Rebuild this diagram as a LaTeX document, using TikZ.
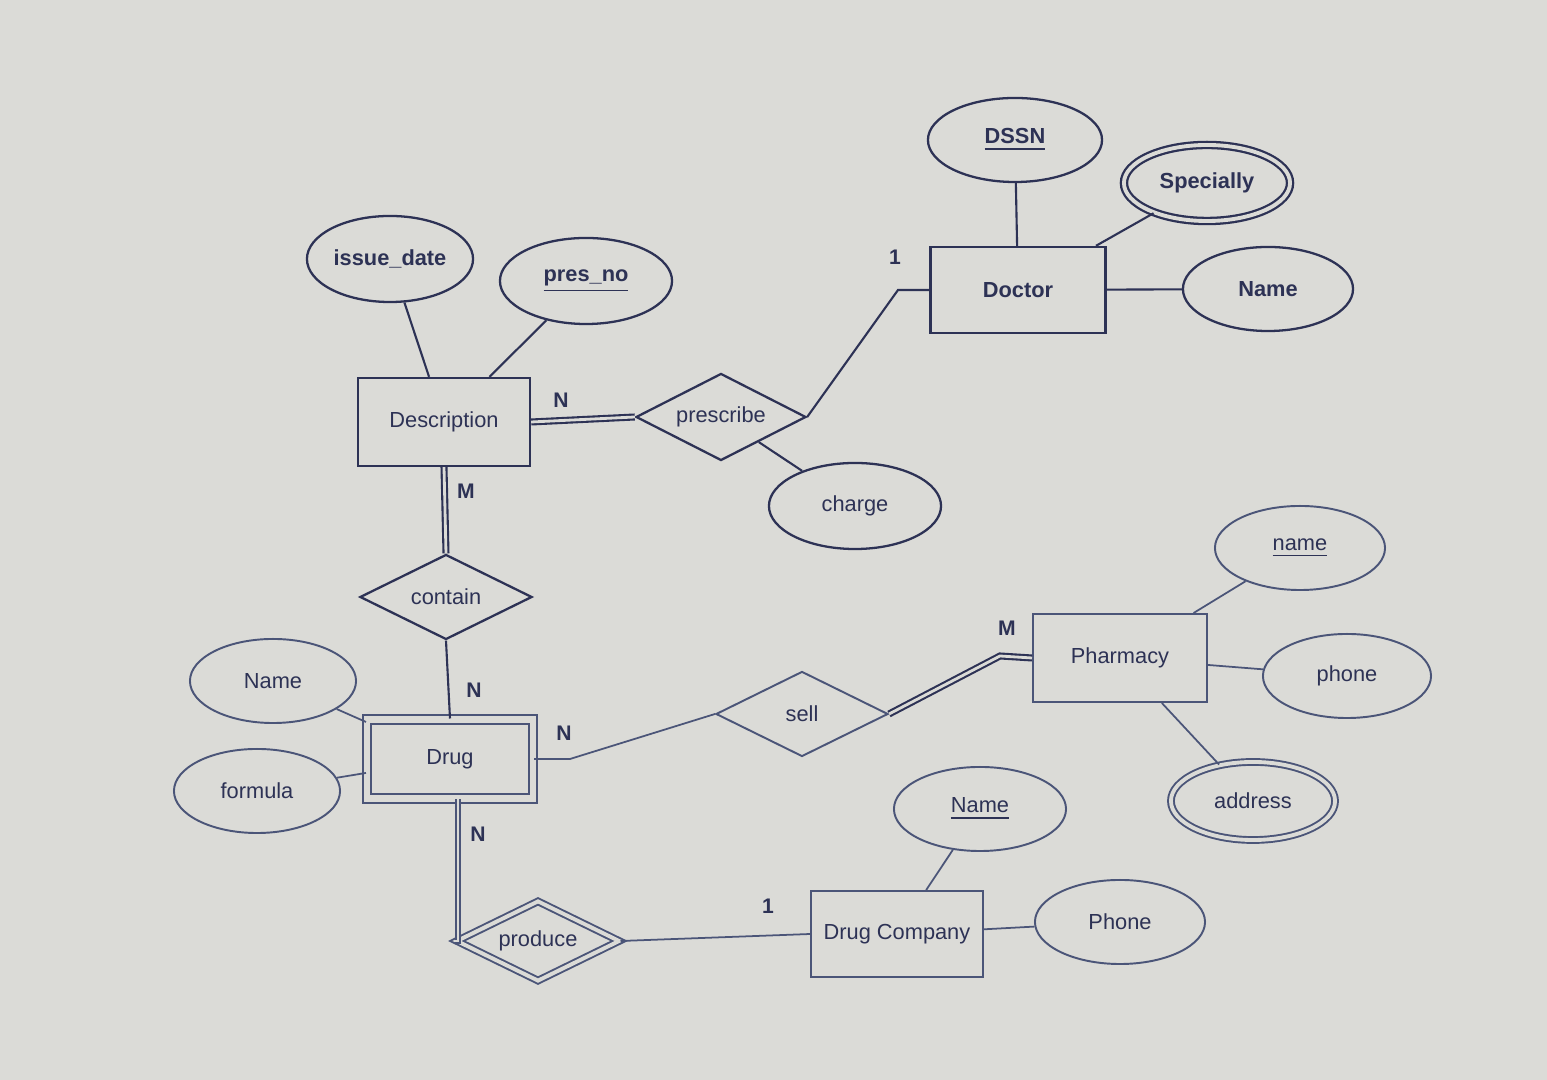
\documentclass[tikz,border=0pt]{standalone}
\usepackage{fontspec}
\setmainfont{Liberation Sans}
\usetikzlibrary{shapes.geometric,calc}
\definecolor{bg}{RGB}{219,219,215}
\definecolor{ink}{RGB}{45,50,85}
\definecolor{inklight}{RGB}{75,85,120}
\tikzset{
  every node/.style={text=ink,font=\fontsize{6.2}{7.5}\selectfont},
  attr/.style={ellipse,draw=ink,line width=0.65pt,inner sep=0pt},
  attrw/.style={ellipse,draw=inklight,line width=0.55pt,inner sep=0pt},
  ent/.style={rectangle,draw=ink,line width=0.65pt,inner sep=0pt},
  entw/.style={rectangle,draw=inklight,line width=0.55pt,inner sep=0pt},
  rel/.style={diamond,draw=ink,line width=0.65pt,inner sep=0pt,aspect=2},
  relw/.style={diamond,draw=inklight,line width=0.55pt,inner sep=0pt,aspect=2},
  dbl/.style={double=bg,double distance=1.1pt},
  dbll/.style={double=bg,double distance=0.8pt},
  conn/.style={draw=ink,line width=0.6pt},
  connw/.style={draw=inklight,line width=0.5pt},
  card/.style={font=\fontsize{6}{7}\selectfont\bfseries},
}
\begin{document}
\begin{tikzpicture}[x=0.01cm,y=-0.01cm]
\fill[bg] (0,0) rectangle (1547,1080);
\useasboundingbox (0,0) rectangle (1547,1080);

% Doctor side
\node[ent,minimum width=1.75cm,minimum height=0.86cm] (doctor) at (1018,290) {\bfseries Doctor};
\node[attr,minimum width=1.74cm,minimum height=0.84cm] (dssn) at (1015,140) {\bfseries\underline{DSSN}};
\node[attr,dbl,minimum width=1.66cm,minimum height=0.76cm] (spec) at (1207,183) {\bfseries Specially};
\node[attr,minimum width=1.70cm,minimum height=0.84cm] (dname) at (1268,289) {\bfseries Name};

% Description
\node[ent,minimum width=1.72cm,minimum height=0.88cm] (desc) at (444,422) {Description};
\node[attr,minimum width=1.66cm,minimum height=0.86cm] (issue) at (390,259) {\bfseries issue\_date};
\node[attr,minimum width=1.72cm,minimum height=0.86cm] (pres) at (586,281) {\bfseries\underline{pres\_no}};
\node[rel,minimum width=1.70cm,minimum height=0.87cm] (prescribe) at (721,417) {prescribe};
\node[attr,minimum width=1.72cm,minimum height=0.86cm] (charge) at (855,506) {charge};
\node[rel,minimum width=1.72cm,minimum height=0.85cm] (contain) at (446,597) {contain};

% Drug
\node[entw,double=bg,double distance=1.8pt,minimum width=1.66cm,minimum height=0.79cm] (drug) at (450,759) {Drug};
\node[attrw,minimum width=1.66cm,minimum height=0.84cm] (drugname) at (273,681) {Name};
\node[attrw,minimum width=1.66cm,minimum height=0.84cm] (formula) at (257,791) {formula};
\node[relw,minimum width=1.72cm,minimum height=0.85cm] (sell) at (802,714) {sell};

% Pharmacy
\node[entw,minimum width=1.74cm,minimum height=0.88cm] (pharm) at (1120,658) {Pharmacy};
\node[attrw,minimum width=1.70cm,minimum height=0.84cm] (pname) at (1300,548) {\underline{name}};
\node[attrw,minimum width=1.68cm,minimum height=0.84cm] (phone) at (1347,676) {phone};
\node[attrw,dbl,minimum width=1.64cm,minimum height=0.78cm] (address) at (1253,801) {address};

% Drug company
\node[entw,minimum width=1.71cm,minimum height=0.86cm] (company) at (897,934) {Drug Company};
\node[attrw,minimum width=1.72cm,minimum height=0.84cm] (cname) at (980,809) {\underline{Name}};
\node[attrw,minimum width=1.70cm,minimum height=0.84cm] (cphone) at (1120,922) {Phone};
\node[relw,dbl,minimum width=1.63cm,minimum height=0.80cm] (produce) at (538,941) {produce};

% bend coordinates
\coordinate (docbend) at (898,290);
\coordinate (drugbend) at (570,759);
\coordinate (pharmbend) at (1000,656);
\coordinate (prodbend) at (458,941);

% connectors
\draw[conn] (dssn) -- (doctor);
\draw[conn] (spec) -- (doctor);
\draw[conn] (doctor) -- (dname);
\draw[conn] (doctor.west) -- (docbend) -- (prescribe.east);
\draw[conn] (issue) -- (desc);
\draw[conn] (pres) -- (desc);
\draw[conn,dbll] (desc.east) -- (prescribe.west);
\draw[conn] (prescribe) -- (charge);
\draw[conn,dbll] (desc.south) -- (contain.north);
\draw[conn] (contain.south) -- (drug.north);
\draw[connw] (drugname) -- (drug);
\draw[connw] (formula) -- (drug);
\draw[connw] (drug.east) -- (drugbend) -- (sell.west);
\draw[conn,dbll] (sell.east) -- (pharmbend) -- (pharm.west);
\draw[connw] (pharm) -- (pname);
\draw[connw] (pharm) -- (phone);
\draw[connw] (pharm) -- (address);
\draw[connw,dbll] ($(drug.south)+(8,0)$) -- (prodbend) -- (produce.west);
\draw[connw] (produce.east) -- (company.west);
\draw[connw] (cname) -- (company);
\draw[connw] (company) -- (cphone);

% cardinalities
\node[card] (c1) at (895,257) {1};
\node[card] (c2) at (561,400) {N};
\node[card] (c3) at (466,491) {M};
\node[card] (c4) at (474,690) {N};
\node[card] (c5) at (564,733) {N};
\node[card] (c6) at (1007,628) {M};
\node[card] (c7) at (478,834) {N};
\node[card] (c8) at (768,906) {1};
\end{tikzpicture}
\end{document}
